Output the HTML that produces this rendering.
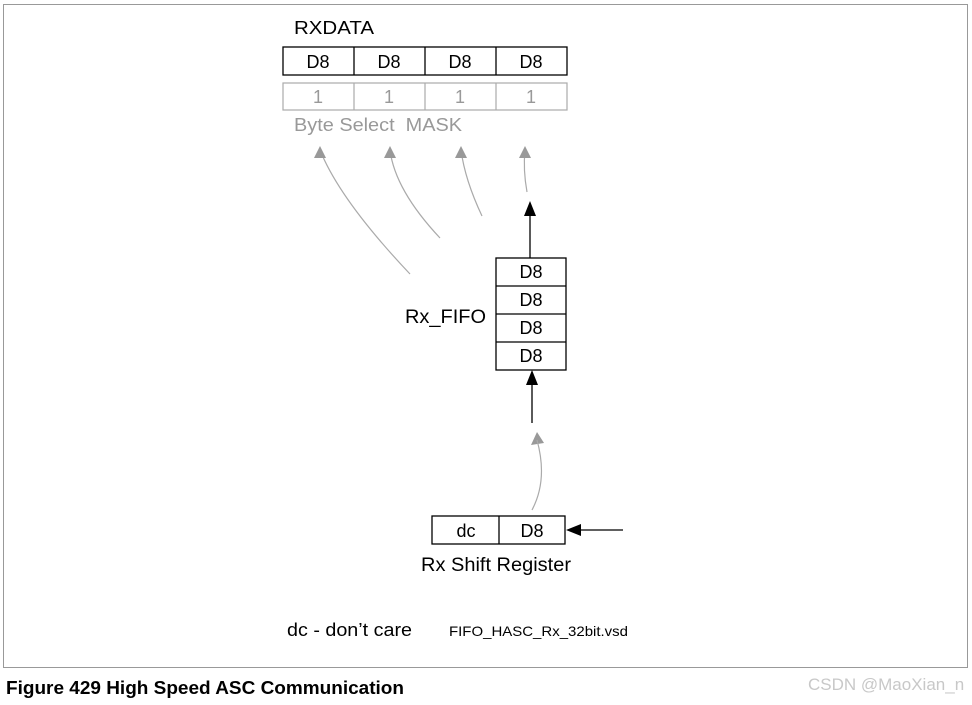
<!DOCTYPE html>
<html><head><style>
body{margin:0;width:972px;height:700px;background:#fff;overflow:hidden;font-family:"Liberation Sans",sans-serif;}
</style></head><body>
<svg width="972" height="700" xmlns="http://www.w3.org/2000/svg" font-family="Liberation Sans, sans-serif">
<rect x="3.5" y="4.5" width="964" height="663" fill="none" stroke="#999" stroke-width="1"/>
<text x="294" y="34" font-size="18" textLength="80" lengthAdjust="spacingAndGlyphs">RXDATA</text>
<g stroke="#000" stroke-width="1.3" fill="none">
<rect x="283" y="47" width="284" height="28"/>
<line x1="354" y1="47" x2="354" y2="75"/><line x1="425" y1="47" x2="425" y2="75"/><line x1="496" y1="47" x2="496" y2="75"/>
</g>
<g font-size="18" text-anchor="middle">
<text x="318" y="68">D8</text><text x="389" y="68">D8</text><text x="460" y="68">D8</text><text x="531" y="68">D8</text>
</g>
<g stroke="#aaa" stroke-width="1.2" fill="none">
<rect x="283" y="83" width="284" height="27"/>
<line x1="354" y1="83" x2="354" y2="110"/><line x1="425" y1="83" x2="425" y2="110"/><line x1="496" y1="83" x2="496" y2="110"/>
</g>
<g font-size="18" text-anchor="middle" fill="#999">
<text x="318" y="103">1</text><text x="389" y="103">1</text><text x="460" y="103">1</text><text x="531" y="103">1</text>
</g>
<text x="294" y="131" font-size="18" fill="#999" textLength="168" lengthAdjust="spacingAndGlyphs">Byte Select&#160; MASK</text>
<g stroke="#aaa" stroke-width="1.2" fill="none">
<path d="M410,274 Q340,200 320,150" />
<path d="M440,238 Q395,190 390,150" />
<path d="M482,216 Q465,180 461,150" />
<path d="M527,192 Q523,170 525,150" />
</g>
<g fill="#999">
<path d="M314,158 L320,146 L326,158 z"/>
<path d="M384,158 L390,146 L396,158 z"/>
<path d="M455,158 L461,146 L467,158 z"/>
<path d="M519,158 L525,146 L531,158 z"/>
<path d="M531,445 L537,432 L544,443 z"/>
</g>
<line x1="530" y1="258" x2="530" y2="214" stroke="#000" stroke-width="1.3"/>
<path d="M524,216 L530,201 L536,216 z" fill="#000"/>
<g stroke="#000" stroke-width="1.3" fill="none">
<rect x="496" y="258" width="70" height="112"/>
<line x1="496" y1="286" x2="566" y2="286"/><line x1="496" y1="314" x2="566" y2="314"/><line x1="496" y1="342" x2="566" y2="342"/>
</g>
<g font-size="18" text-anchor="middle">
<text x="531" y="278">D8</text><text x="531" y="306">D8</text><text x="531" y="334">D8</text><text x="531" y="362">D8</text>
</g>
<text x="405" y="323" font-size="19" textLength="81" lengthAdjust="spacingAndGlyphs">Rx_FIFO</text>
<line x1="532" y1="423" x2="532" y2="384" stroke="#000" stroke-width="1.3"/>
<path d="M526,385 L532,370 L538,385 z" fill="#000"/>
<path d="M532,510 Q548,480 537,440" stroke="#aaa" stroke-width="1.2" fill="none"/>
<g stroke="#000" stroke-width="1.3" fill="none">
<rect x="432" y="516" width="133" height="28"/>
<line x1="499" y1="516" x2="499" y2="544"/>
</g>
<text x="466" y="537" font-size="18" text-anchor="middle">dc</text>
<text x="532" y="537" font-size="18" text-anchor="middle">D8</text>
<line x1="623" y1="530" x2="580" y2="530" stroke="#000" stroke-width="1.3"/>
<path d="M581,524 L566,530 L581,536 z" fill="#000"/>
<text x="421" y="571" font-size="19" textLength="150" lengthAdjust="spacingAndGlyphs">Rx Shift Register</text>
<text x="287" y="636" font-size="18" textLength="125" lengthAdjust="spacingAndGlyphs">dc - don’t care</text>
<text x="449" y="636" font-size="14" textLength="179" lengthAdjust="spacingAndGlyphs">FIFO_HASC_Rx_32bit.vsd</text>
<text x="6" y="694" font-size="18" font-weight="bold" textLength="398" lengthAdjust="spacingAndGlyphs">Figure 429  High Speed ASC Communication</text>
<text x="808" y="690" font-size="17" fill="#c8c8c8">CSDN @MaoXian_n</text>
</svg>
</body></html>
